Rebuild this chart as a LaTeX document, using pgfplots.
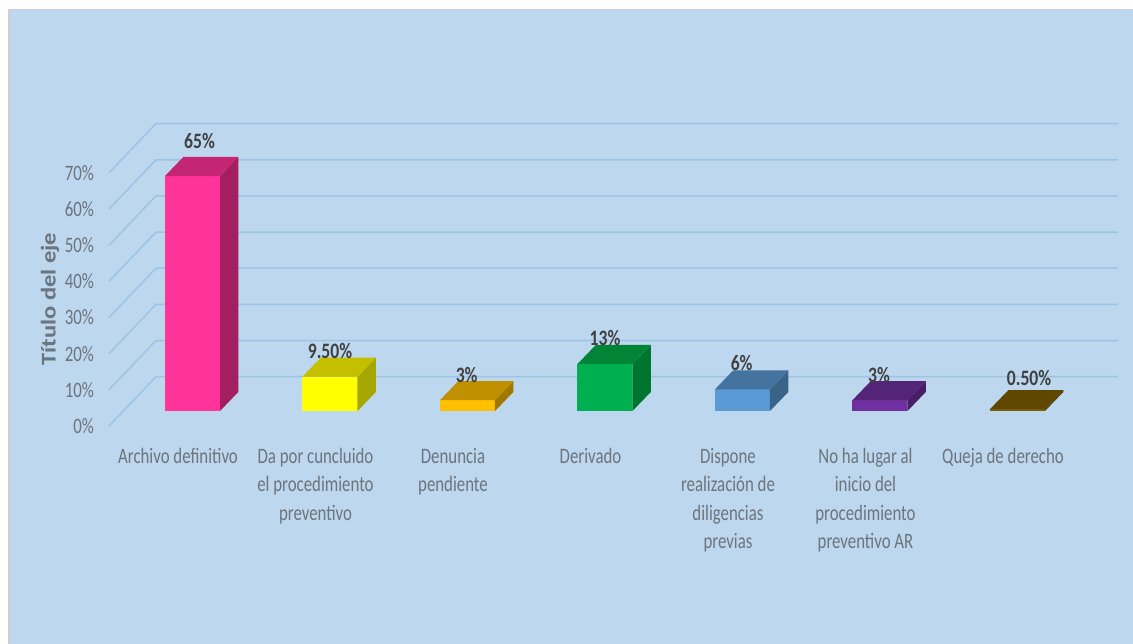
\documentclass[border=0pt]{standalone}
\usepackage{fontspec}
\setmainfont{Carlito}[FakeStretch=0.765]
\newfontfamily\titlefont{Carlito}[FakeStretch=1.17]
\newfontfamily\datofont{Carlito}[FakeStretch=0.8]
\usepackage{pgfplots}
\pgfplotsset{compat=1.18}

\definecolor{panel}{HTML}{BDD7EE}
\definecolor{borde}{HTML}{D0CECE}
\definecolor{rejilla}{HTML}{9DC3E6}
\definecolor{gristxt}{HTML}{6C747D}
\definecolor{datotxt}{HTML}{404040}

\definecolor{rosaA}{HTML}{FF3399}\definecolor{rosaB}{HTML}{C42675}\definecolor{rosaC}{HTML}{A31F60}
\definecolor{amarA}{HTML}{FFFF00}\definecolor{amarB}{HTML}{C4C000}\definecolor{amarC}{HTML}{A6A600}
\definecolor{naraA}{HTML}{FFC000}\definecolor{naraB}{HTML}{C09000}\definecolor{naraC}{HTML}{A07800}
\definecolor{verdA}{HTML}{00B050}\definecolor{verdB}{HTML}{008537}\definecolor{verdC}{HTML}{00752F}
\definecolor{azulA}{HTML}{5B9BD5}\definecolor{azulB}{HTML}{4473A0}\definecolor{azulC}{HTML}{3A6388}
\definecolor{moraA}{HTML}{7030A0}\definecolor{moraB}{HTML}{542478}\definecolor{moraC}{HTML}{481F66}
\definecolor{cafeA}{HTML}{7F6000}\definecolor{cafeB}{HTML}{5F4700}\definecolor{cafeC}{HTML}{503C00}

% one 3D box: position, value, front colour, top colour, side colour
\newcommand{\caja}[5]{%
  \pgfmathsetmacro\xl{#1-0.2}%
  \pgfmathsetmacro\xr{#1+0.2}%
  \pgfmathsetmacro\xlb{#1-0.2+0.133}%
  \pgfmathsetmacro\xrb{#1+0.2+0.133}%
  \pgfmathsetmacro\yt{#2+5.256}%
  \addplot[ybar,bar width=55pt,bar shift=0pt,fill=#3,draw=none] coordinates {(#1,#2)};
  \addplot[fill=#5,draw=none] coordinates {(\xr,0) (\xr,#2) (\xrb,\yt) (\xrb,5.256)} --cycle;
  \addplot[fill=#4,draw=none] coordinates {(\xl,#2) (\xr,#2) (\xrb,\yt) (\xlb,\yt)} --cycle;
}
% one gridline: front end on the axis, back wall, right end
\newcommand{\rejilla}[1]{%
  \pgfmathsetmacro\yf{#1-4.149}%
  \pgfmathsetmacro\yb{#1+9.49}%
  \addplot[rejilla,line width=1.5pt] coordinates {(-0.6073,\yf) (-0.2655,\yb) (6.7309,\yb)};
}

\begin{document}
\begin{tikzpicture}[x=1pt,y=1pt]
% page and panel, axis corner sits at the origin
\fill[white] (-109,-218) rectangle (1024,426);
\fill[borde] (-101,-218) rectangle (1024,417);
\fill[panel] (-99,-218) rectangle (1024,415.5);
\begin{axis}[
  scale only axis,
  width=1009pt, height=302.7pt,
  xmin=-0.6073, xmax=6.7309,
  ymin=-4.149, ymax=79.58,
  clip=false,
  axis line style={draw=none},
  major tick length=0pt,
  xtick={0,1,2,3,4,5,6},
  xticklabels={Archivo definitivo,
    {Da por cuncluido\\el procedimiento\\preventivo},
    {Denuncia\\pendiente},
    Derivado,
    {Dispone\\realización de\\diligencias\\previas},
    {No ha lugar al\\inicio del\\procedimiento\\preventivo AR},
    Queja de derecho},
  xticklabel style={align=center,anchor=north,xshift=-14.5pt,yshift=-18.5pt,
    text=gristxt,font=\fontsize{22}{28.5}\selectfont},
  ytick={-4.149,5.851,15.851,25.851,35.851,45.851,55.851,65.851},
  yticklabels={0\%,10\%,20\%,30\%,40\%,50\%,60\%,70\%},
  yticklabel style={anchor=east,xshift=-11.5pt,text=gristxt,font=\fontsize{22}{22}\selectfont},
  ylabel={\titlefont\bfseries Título del eje},
  ylabel style={at={(rel axis cs:-0.0585,0.419)},anchor=center,rotate=0,
    text=gristxt,font=\fontsize{21}{21}\selectfont},
]
\rejilla{0}\rejilla{10}\rejilla{20}\rejilla{30}
\rejilla{40}\rejilla{50}\rejilla{60}\rejilla{70}

\caja{0}{65}{rosaA}{rosaB}{rosaC}
\caja{1}{9.5}{amarA}{amarB}{amarC}
\caja{2}{3}{naraA}{naraB}{naraC}
\caja{3}{13}{verdA}{verdB}{verdC}
\caja{4}{6}{azulA}{azulB}{azulC}
\caja{5}{3}{moraA}{moraB}{moraC}
\caja{6}{0.5}{cafeA}{cafeB}{cafeC}

\begin{scope}[every node/.style={text=datotxt,font=\fontsize{22}{22}\selectfont\datofont\bfseries}]
\node at (axis cs:0.051,74.69) {65\%};
\node at (axis cs:1.0,16.6) {9.50\%};
\node at (axis cs:1.994,9.96) {3\%};
\node at (axis cs:3,20.19) {13\%};
\node at (axis cs:3.994,13.28) {6\%};
\node at (axis cs:4.993,9.96) {3\%};
\node at (axis cs:6.084,9.13) {0.50\%};
\end{scope}
\end{axis}
\end{tikzpicture}
\end{document}
